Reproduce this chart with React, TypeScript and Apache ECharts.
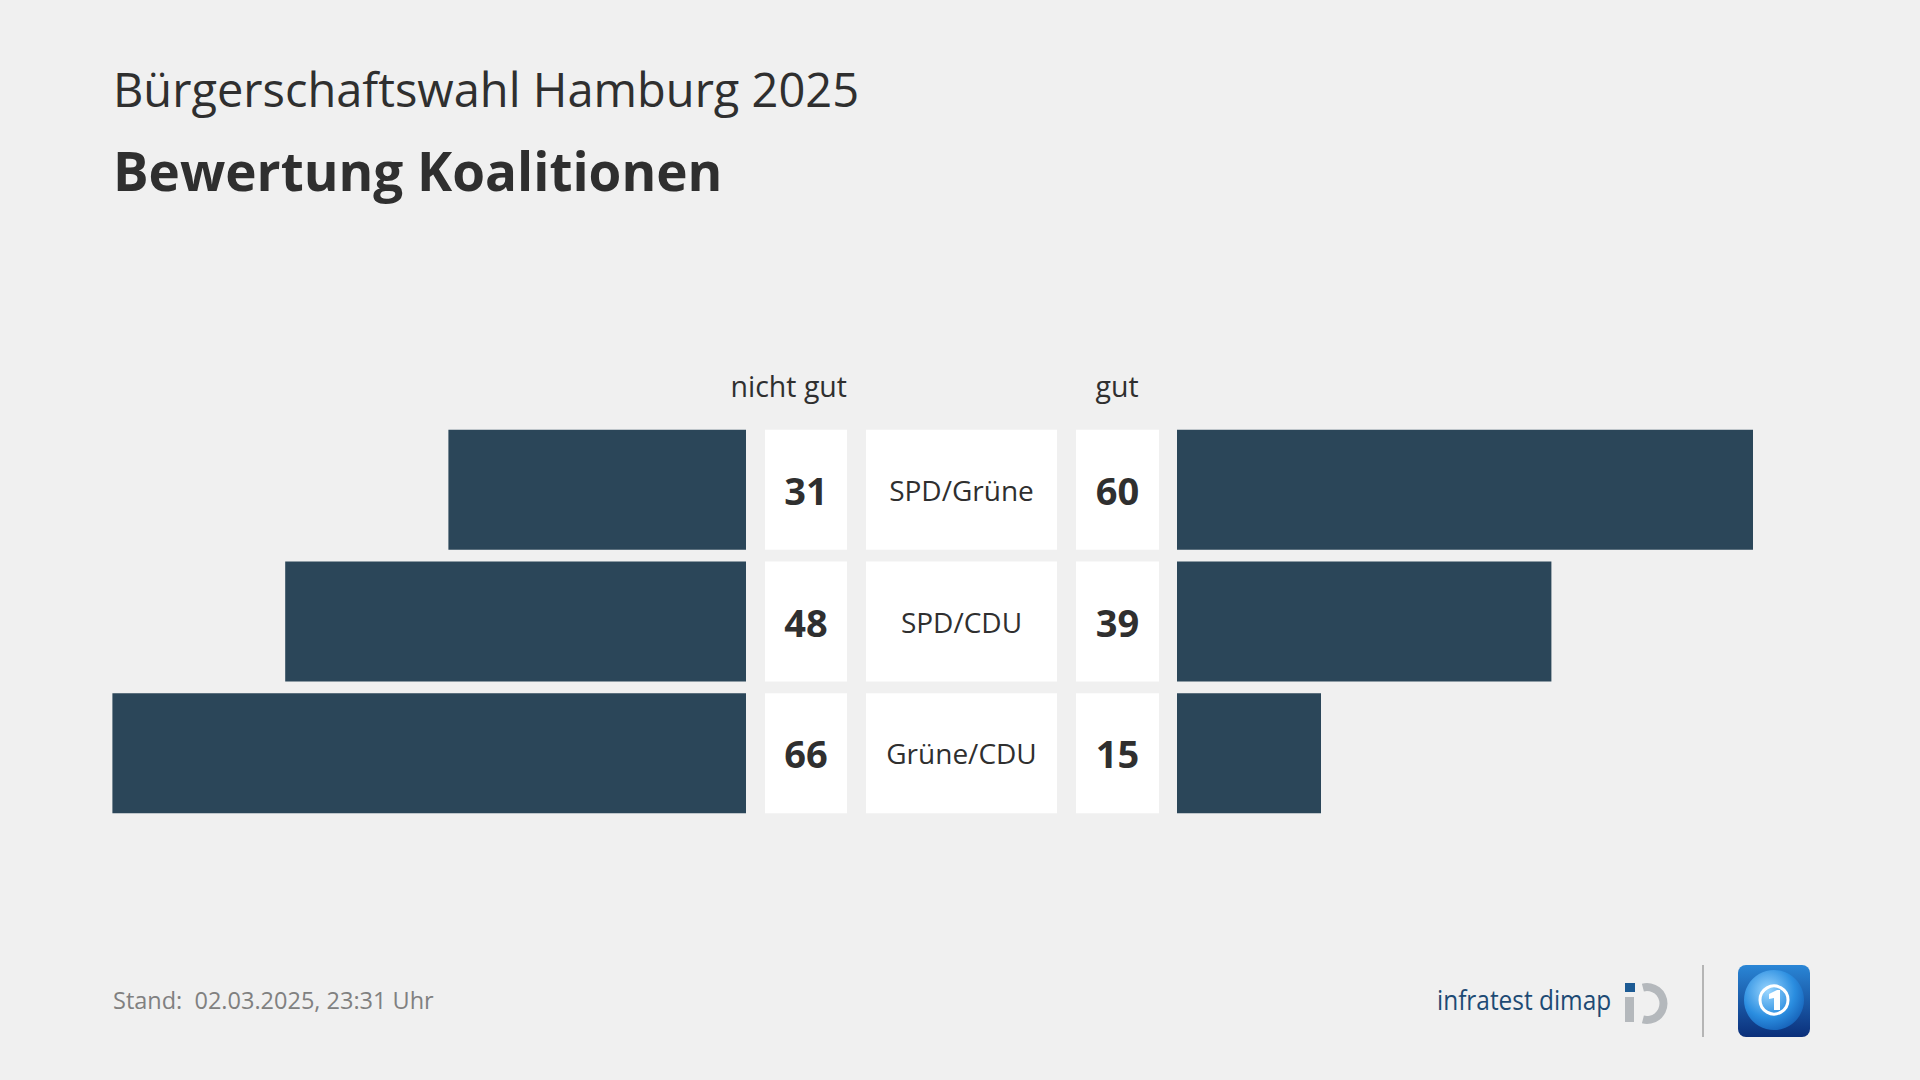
import React, { useEffect, useRef } from "react";
import * as echarts from "echarts";

const categories = ["SPD/Grüne", "SPD/CDU", "Grüne/CDU"];
const nichtGut = [31, 48, 66];
const gut = [60, 39, 15];
const headerLabels = ["nicht gut", "gut"];
const subtitle = "Bürgerschaftswahl Hamburg 2025";
const titleText = "Bewertung Koalitionen";
const footer = "Stand:  02.03.2025, 23:31 Uhr";

const FONT = "Open Sans";
const BAR = "#2b4659";
const TXT = "#2f2f2f";
const BG = "#f0f0f0";

export default function App() {
  const ref = useRef<HTMLDivElement>(null);
  useEffect(() => {
    if (!ref.current) return;
    const chart = echarts.init(ref.current, null, { renderer: "svg" });
    const top = 424;
    const height = 395;
    const scaleMax = 70;
    const barW = 120;
    const grids = [
      { left: 74, top, width: 672, height },
      { left: 1177, top, width: 672, height },
      { left: 765, top, width: 82, height },
      { left: 866, top, width: 191, height },
      { left: 1076, top, width: 83, height },
    ];
    const xAxes = grids.map((_, i) => ({
      gridIndex: i,
      type: "value",
      min: 0,
      max: i < 2 ? scaleMax : 1,
      inverse: i === 0,
      show: false,
    }));
    const yAxes = grids.map((_, i) => ({
      gridIndex: i,
      type: "category",
      data: categories,
      inverse: true,
      show: false,
    }));
    const boxLabel = (arr: (string | number)[], size: number, bold: boolean) => ({
      show: true,
      position: "inside",
      formatter: (p: any) => String(arr[p.dataIndex]),
      fontFamily: FONT,
      fontSize: size,
      fontWeight: bold ? "bold" : "normal",
      color: TXT,
    });
    const ones = categories.map(() => 1);
    const series: any[] = [
      { type: "bar", xAxisIndex: 0, yAxisIndex: 0, data: nichtGut, barWidth: barW, itemStyle: { color: BAR }, silent: true },
      { type: "bar", xAxisIndex: 1, yAxisIndex: 1, data: gut, barWidth: barW, itemStyle: { color: BAR }, silent: true },
      { type: "bar", xAxisIndex: 2, yAxisIndex: 2, data: ones, barWidth: barW, itemStyle: { color: "#ffffff" }, label: boxLabel(nichtGut, 38, true), silent: true },
      { type: "bar", xAxisIndex: 3, yAxisIndex: 3, data: ones, barWidth: barW, itemStyle: { color: "#ffffff" }, label: boxLabel(categories, 28, false), silent: true },
      { type: "bar", xAxisIndex: 4, yAxisIndex: 4, data: ones, barWidth: barW, itemStyle: { color: "#ffffff" }, label: boxLabel(gut, 38, true), silent: true },
    ];
    const graphic: any[] = [
      { type: "text", x: 113, y: 89, style: { text: subtitle, fontFamily: FONT, fontSize: 47, fill: TXT, verticalAlign: "middle" } },
      { type: "text", x: 113, y: 170, style: { text: titleText, fontFamily: FONT, fontSize: 53, fontWeight: "bold", fill: TXT, verticalAlign: "middle" } },
      { type: "text", x: 847, y: 386, style: { text: headerLabels[0], fontFamily: FONT, fontSize: 28.5, fill: TXT, align: "right", verticalAlign: "middle" } },
      { type: "text", x: 1117, y: 386, style: { text: headerLabels[1], fontFamily: FONT, fontSize: 28.5, fill: TXT, align: "center", verticalAlign: "middle" } },
      { type: "text", x: 113, y: 1000, style: { text: footer, fontFamily: FONT, fontSize: 23.5, fill: "#808080", verticalAlign: "middle" } },
      { type: "text", x: 1437, y: 1000, scaleX: 0.905, style: { text: "infratest dimap", fontFamily: FONT, fontSize: 27, fill: "#1d4a74", verticalAlign: "middle" } },
      { type: "rect", shape: { x: 1625, y: 983, width: 10, height: 9 }, style: { fill: "#1d5b94" } },
      { type: "rect", shape: { x: 1625, y: 997, width: 9, height: 25 }, style: { fill: "#b4b8bc" } },
      { type: "sector", shape: { cx: 1647, cy: 1003.5, r0: 12.5, r: 20.5, startAngle: -Math.PI * 0.58, endAngle: Math.PI * 0.58, clockwise: true }, style: { fill: "#b4b8bc" } },
      { type: "line", shape: { x1: 1703, y1: 965, x2: 1703, y2: 1037 }, style: { stroke: "#b5b5b5", lineWidth: 2 } },
      {
        type: "rect",
        shape: { x: 1738, y: 965, width: 72, height: 72, r: 8 },
        style: {
          fill: new echarts.graphic.LinearGradient(0, 0, 0, 1, [
            { offset: 0, color: "#2a86d6" },
            { offset: 1, color: "#0b2f7a" },
          ]),
        },
      },
      {
        type: "circle",
        shape: { cx: 1774, cy: 1000, r: 30 },
        style: {
          fill: new echarts.graphic.RadialGradient(0.4, 0.35, 0.8, [
            { offset: 0, color: "#9ad6ff" },
            { offset: 0.55, color: "#2b8ee0" },
            { offset: 1, color: "#0d4fa8" },
          ]),
        },
      },
      { type: "circle", shape: { cx: 1774, cy: 1000, r: 14 }, style: { fill: "none", stroke: "#ffffff", lineWidth: 3 } },
      { type: "polygon", shape: { points: [[1769, 994], [1777, 990], [1780, 990], [1780, 1010], [1774, 1010], [1774, 998], [1769, 999]] }, style: { fill: "#ffffff" } },
    ];
    chart.setOption({
      animation: false,
      backgroundColor: BG,
      grid: grids.map((g) => ({ ...g, containLabel: false })),
      xAxis: xAxes,
      yAxis: yAxes,
      series,
      graphic,
    });
    return () => chart.dispose();
  }, []);
  return <div ref={ref} style={{ position: "fixed", left: 0, top: 0, width: 1920, height: 1080 }} />;
}
